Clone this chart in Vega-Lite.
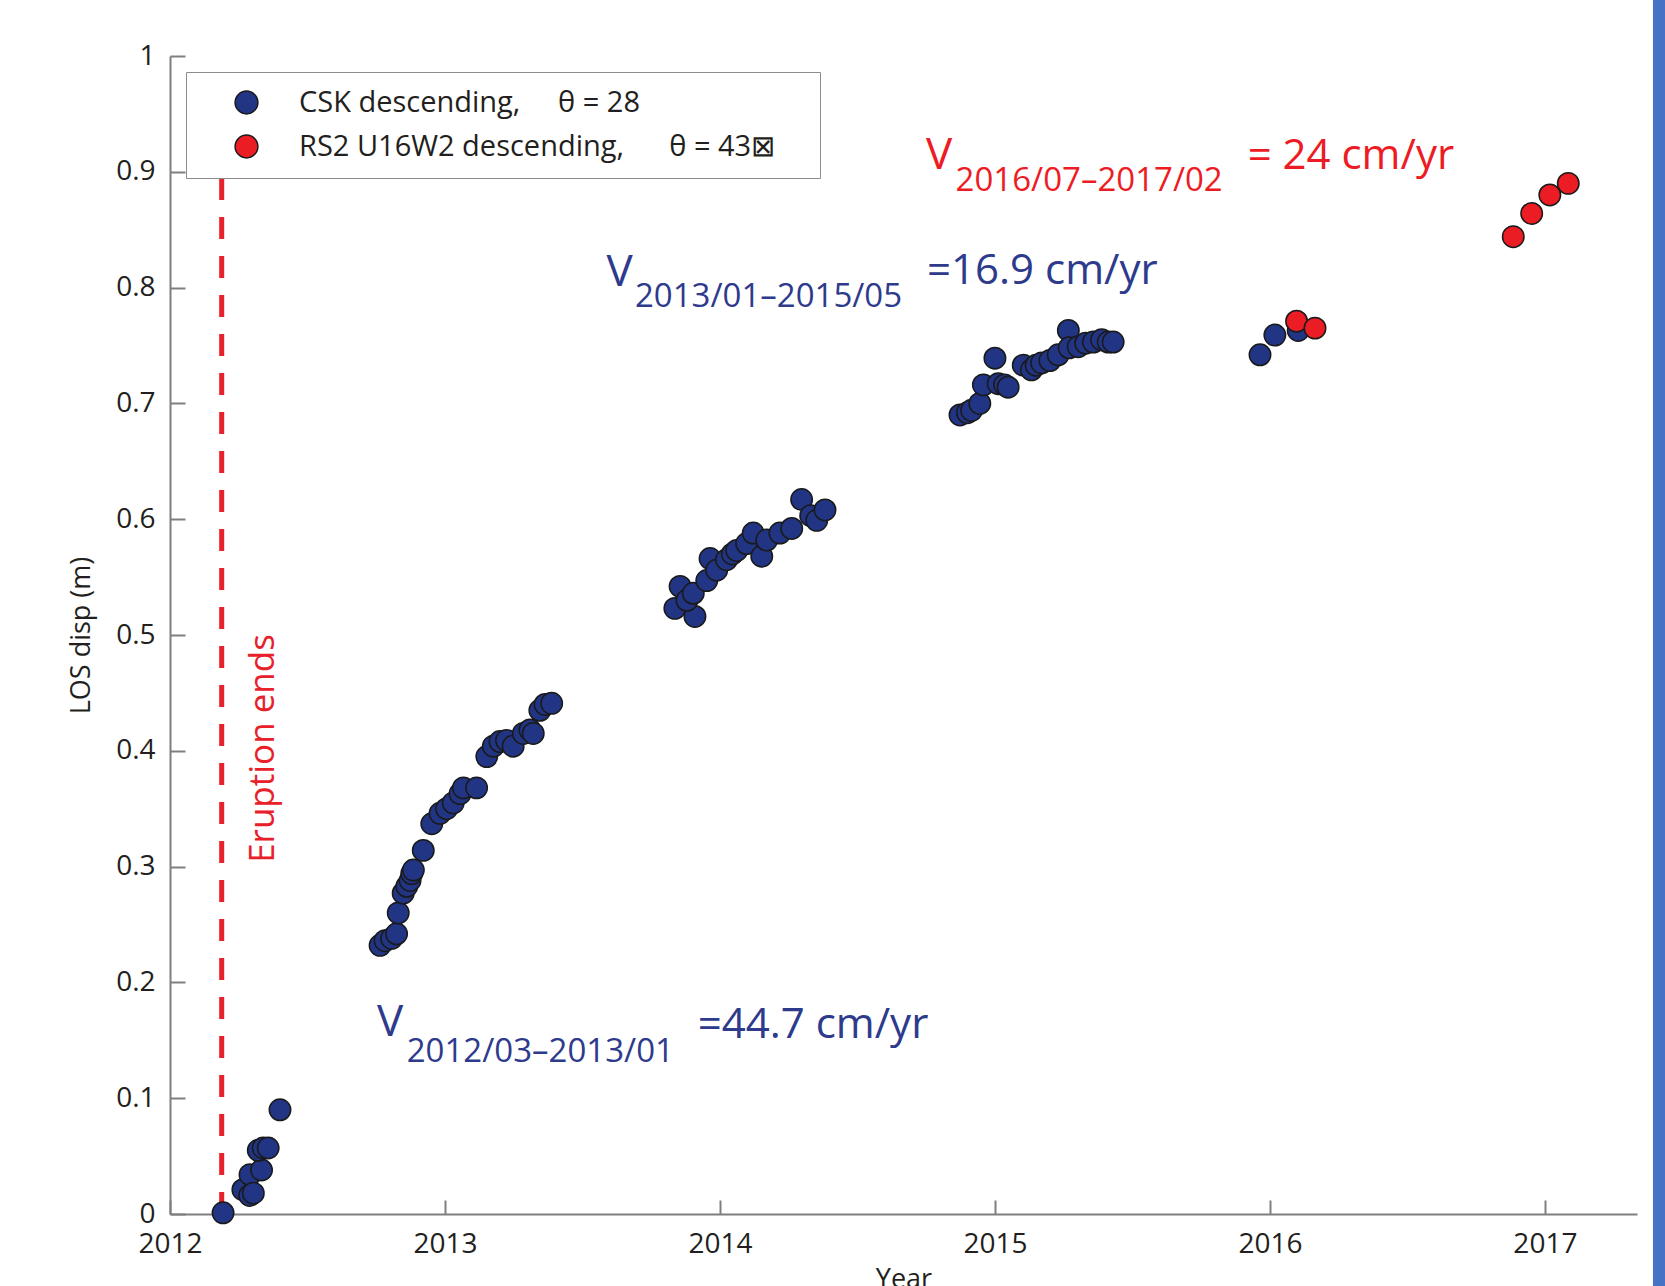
{
  "$schema": "https://vega.github.io/schema/vega-lite/v6.json",
  "width": 1467,
  "height": 1158,
  "autosize": {"type": "none"},
  "padding": {"left": 170, "top": 56, "right": 28, "bottom": 72},
  "background": "white",
  "config": {"view": {"stroke": null}, "font": "Open Sans"},
  "datasets": {
    "points": [
      {"series": "CSK", "year": 2012.193, "disp": 0.001},
      {"series": "CSK", "year": 2012.265, "disp": 0.021},
      {"series": "CSK", "year": 2012.290, "disp": 0.016},
      {"series": "CSK", "year": 2012.291, "disp": 0.034},
      {"series": "CSK", "year": 2012.303, "disp": 0.018},
      {"series": "CSK", "year": 2012.333, "disp": 0.038},
      {"series": "CSK", "year": 2012.321, "disp": 0.055},
      {"series": "CSK", "year": 2012.339, "disp": 0.057},
      {"series": "CSK", "year": 2012.357, "disp": 0.057},
      {"series": "CSK", "year": 2012.400, "disp": 0.090},
      {"series": "CSK", "year": 2012.764, "disp": 0.232},
      {"series": "CSK", "year": 2012.782, "disp": 0.236},
      {"series": "CSK", "year": 2012.806, "disp": 0.238},
      {"series": "CSK", "year": 2012.824, "disp": 0.242},
      {"series": "CSK", "year": 2012.830, "disp": 0.260},
      {"series": "CSK", "year": 2012.848, "disp": 0.277},
      {"series": "CSK", "year": 2012.861, "disp": 0.283},
      {"series": "CSK", "year": 2012.873, "disp": 0.288},
      {"series": "CSK", "year": 2012.879, "disp": 0.294},
      {"series": "CSK", "year": 2012.885, "disp": 0.297},
      {"series": "CSK", "year": 2012.921, "disp": 0.314},
      {"series": "CSK", "year": 2012.952, "disp": 0.337},
      {"series": "CSK", "year": 2012.982, "disp": 0.346},
      {"series": "CSK", "year": 2013.006, "disp": 0.350},
      {"series": "CSK", "year": 2013.030, "disp": 0.355},
      {"series": "CSK", "year": 2013.055, "disp": 0.363},
      {"series": "CSK", "year": 2013.067, "disp": 0.368},
      {"series": "CSK", "year": 2013.115, "disp": 0.368},
      {"series": "CSK", "year": 2013.152, "disp": 0.395},
      {"series": "CSK", "year": 2013.176, "disp": 0.404},
      {"series": "CSK", "year": 2013.200, "disp": 0.408},
      {"series": "CSK", "year": 2013.224, "disp": 0.409},
      {"series": "CSK", "year": 2013.248, "disp": 0.404},
      {"series": "CSK", "year": 2013.285, "disp": 0.415},
      {"series": "CSK", "year": 2013.309, "disp": 0.418},
      {"series": "CSK", "year": 2013.321, "disp": 0.415},
      {"series": "CSK", "year": 2013.345, "disp": 0.435},
      {"series": "CSK", "year": 2013.364, "disp": 0.440},
      {"series": "CSK", "year": 2013.388, "disp": 0.441},
      {"series": "CSK", "year": 2013.836, "disp": 0.523},
      {"series": "CSK", "year": 2013.855, "disp": 0.542},
      {"series": "CSK", "year": 2013.909, "disp": 0.516},
      {"series": "CSK", "year": 2013.880, "disp": 0.530},
      {"series": "CSK", "year": 2013.903, "disp": 0.536},
      {"series": "CSK", "year": 2013.952, "disp": 0.547},
      {"series": "CSK", "year": 2013.964, "disp": 0.566},
      {"series": "CSK", "year": 2013.988, "disp": 0.556},
      {"series": "CSK", "year": 2014.024, "disp": 0.565},
      {"series": "CSK", "year": 2014.045, "disp": 0.570},
      {"series": "CSK", "year": 2014.061, "disp": 0.573},
      {"series": "CSK", "year": 2014.097, "disp": 0.579},
      {"series": "CSK", "year": 2014.121, "disp": 0.588},
      {"series": "CSK", "year": 2014.152, "disp": 0.568},
      {"series": "CSK", "year": 2014.170, "disp": 0.582},
      {"series": "CSK", "year": 2014.218, "disp": 0.588},
      {"series": "CSK", "year": 2014.261, "disp": 0.592},
      {"series": "CSK", "year": 2014.297, "disp": 0.617},
      {"series": "CSK", "year": 2014.330, "disp": 0.603},
      {"series": "CSK", "year": 2014.352, "disp": 0.599},
      {"series": "CSK", "year": 2014.382, "disp": 0.608},
      {"series": "CSK", "year": 2014.873, "disp": 0.690},
      {"series": "CSK", "year": 2014.900, "disp": 0.692},
      {"series": "CSK", "year": 2014.915, "disp": 0.694},
      {"series": "CSK", "year": 2014.945, "disp": 0.700},
      {"series": "CSK", "year": 2014.958, "disp": 0.716},
      {"series": "CSK", "year": 2015.000, "disp": 0.739},
      {"series": "CSK", "year": 2015.012, "disp": 0.717},
      {"series": "CSK", "year": 2015.035, "disp": 0.716},
      {"series": "CSK", "year": 2015.048, "disp": 0.714},
      {"series": "CSK", "year": 2015.103, "disp": 0.733},
      {"series": "CSK", "year": 2015.133, "disp": 0.729},
      {"series": "CSK", "year": 2015.150, "disp": 0.733},
      {"series": "CSK", "year": 2015.170, "disp": 0.735},
      {"series": "CSK", "year": 2015.200, "disp": 0.737},
      {"series": "CSK", "year": 2015.230, "disp": 0.742},
      {"series": "CSK", "year": 2015.267, "disp": 0.763},
      {"series": "CSK", "year": 2015.270, "disp": 0.748},
      {"series": "CSK", "year": 2015.303, "disp": 0.749},
      {"series": "CSK", "year": 2015.330, "disp": 0.752},
      {"series": "CSK", "year": 2015.358, "disp": 0.753},
      {"series": "CSK", "year": 2015.388, "disp": 0.755},
      {"series": "CSK", "year": 2015.412, "disp": 0.753},
      {"series": "CSK", "year": 2015.430, "disp": 0.753},
      {"series": "CSK", "year": 2015.964, "disp": 0.742},
      {"series": "CSK", "year": 2016.018, "disp": 0.759},
      {"series": "CSK", "year": 2016.103, "disp": 0.763},
      {"series": "RS2", "year": 2016.097, "disp": 0.771},
      {"series": "RS2", "year": 2016.164, "disp": 0.765},
      {"series": "RS2", "year": 2016.885, "disp": 0.844},
      {"series": "RS2", "year": 2016.952, "disp": 0.864},
      {"series": "RS2", "year": 2017.018, "disp": 0.880},
      {"series": "RS2", "year": 2017.085, "disp": 0.890}
    ],
    "annotations": [
      {"kind": "V", "group": "CSK", "year": 2012.753, "disp": 0.154, "label": "V"},
      {"kind": "sub", "group": "CSK", "year": 2012.861, "disp": 0.131, "label": "2012/03–2013/01"},
      {"kind": "val", "group": "CSK", "year": 2013.919, "disp": 0.152, "label": "=44.7 cm/yr"},
      {"kind": "V", "group": "CSK", "year": 2013.587, "disp": 0.801, "label": "V"},
      {"kind": "sub", "group": "CSK", "year": 2013.691, "disp": 0.783, "label": "2013/01–2015/05"},
      {"kind": "val", "group": "CSK", "year": 2014.753, "disp": 0.803, "label": "=16.9 cm/yr"},
      {"kind": "V", "group": "RS2", "year": 2014.749, "disp": 0.902, "label": "V"},
      {"kind": "sub", "group": "RS2", "year": 2014.857, "disp": 0.883, "label": "2016/07–2017/02"},
      {"kind": "val", "group": "RS2", "year": 2015.919, "disp": 0.902, "label": "= 24 cm/yr"}
    ],
    "eruption": [
      {"year": 2012.188, "disp": 0, "disp2": 0.9, "label": "Eruption ends", "labelYear": 2012.378, "labelDisp": 0.402}
    ],
    "frame": [
      {"year": 2017.393, "year2": 2017.44, "disp": -0.07, "disp2": 1.06}
    ]
  },
  "encoding": {
    "x": {
      "field": "year", "type": "quantitative",
      "scale": {"domain": [2012, 2017.335], "nice": false, "zero": false},
      "axis": {
        "title": "Year", "values": [2012, 2013, 2014, 2015, 2016, 2017], "format": "d",
        "grid": false, "labelFlush": false, "labelOverlap": false,
        "tickSize": -14, "tickWidth": 2, "tickColor": "#7f7f7f",
        "domainColor": "#7f7f7f", "domainWidth": 2,
        "labelPadding": 30, "labelFontSize": 28, "labelColor": "#231f20", "labelFont": "Open Sans",
        "titleFontSize": 27, "titleFontWeight": "normal", "titleColor": "#231f20", "titleFont": "Open Sans", "titlePadding": 8
      }
    },
    "y": {
      "field": "disp", "type": "quantitative",
      "scale": {"domain": [0, 1], "nice": false, "zero": false},
      "axis": {
        "title": "LOS disp (m)", "values": [0, 0.1, 0.2, 0.3, 0.4, 0.5, 0.6, 0.7, 0.8, 0.9, 1], "format": "~g",
        "grid": false, "labelOverlap": false,
        "tickSize": -15, "tickWidth": 2, "tickColor": "#7f7f7f",
        "domainColor": "#7f7f7f", "domainWidth": 2,
        "labelPadding": 30, "labelFontSize": 28, "labelColor": "#231f20", "labelFont": "Open Sans",
        "titleFontSize": 27, "titleFontWeight": "normal", "titleColor": "#231f20", "titleFont": "Open Sans", "titlePadding": 20
      }
    }
  },
  "layer": [
    {
      "data": {"name": "frame"},
      "mark": {"type": "rect", "color": "#4472C4", "clip": false},
      "encoding": {"x2": {"field": "year2"}, "y2": {"field": "disp2"}}
    },
    {
      "data": {"name": "eruption"},
      "mark": {"type": "rule", "color": "#E8202A", "strokeWidth": 5, "strokeDash": [22, 17]},
      "encoding": {"y2": {"field": "disp2"}}
    },
    {
      "data": {"name": "eruption"},
      "mark": {"type": "text", "angle": 270, "align": "center", "baseline": "alphabetic", "fontSize": 35, "font": "Open Sans", "color": "#E8202A"},
      "encoding": {
        "x": {"field": "labelYear", "type": "quantitative"},
        "y": {"field": "labelDisp", "type": "quantitative"},
        "text": {"field": "label"}
      }
    },
    {
      "data": {"name": "points"},
      "mark": {"type": "point", "shape": "circle", "filled": true, "size": 460, "opacity": 1, "stroke": "#1a1a1a", "strokeWidth": 1.5},
      "encoding": {
        "color": {
          "field": "series", "type": "nominal",
          "scale": {"domain": ["CSK", "RS2"], "range": ["#213584", "#EC1C24"]},
          "legend": {
            "title": null, "orient": "none", "legendX": 16, "legendY": 16, "direction": "vertical",
            "labelExpr": "datum.value === 'CSK' ? 'CSK descending,\u00a0\u00a0\u00a0\u00a0\u00a0θ = 28' : 'RS2 U16W2 descending,\u00a0\u00a0\u00a0\u00a0\u00a0\u00a0θ = 43⊠\u00a0\u2800'",
            "padding": 16, "strokeColor": "#8c8c8c", "fillColor": "white",
            "symbolType": "circle", "symbolSize": 520, "symbolOffset": 30, "labelOffset": 38,
            "labelFontSize": 29, "labelFont": "Open Sans", "labelColor": "#231f20", "labelLimit": 1000,
            "rowPadding": 14,
            "encode": {
              "symbols": {"update": {"stroke": {"value": "#1a1a1a"}, "strokeWidth": {"value": 1.5}}},
              "legend": {"update": {"strokeWidth": {"value": 2}}}
            }
          }
        }
      }
    },
    {
      "data": {"name": "annotations"},
      "transform": [{"filter": "datum.kind === 'V'"}],
      "mark": {"type": "text", "align": "left", "baseline": "alphabetic", "fontSize": 44, "font": "Open Sans"},
      "encoding": {
        "text": {"field": "label"},
        "color": {"condition": {"test": "datum.group === 'RS2'", "value": "#ED1C24"}, "value": "#2E3A8C"}
      }
    },
    {
      "data": {"name": "annotations"},
      "transform": [{"filter": "datum.kind === 'sub'"}],
      "mark": {"type": "text", "align": "left", "baseline": "alphabetic", "fontSize": 33, "font": "Open Sans"},
      "encoding": {
        "text": {"field": "label"},
        "color": {"condition": {"test": "datum.group === 'RS2'", "value": "#ED1C24"}, "value": "#2E3A8C"}
      }
    },
    {
      "data": {"name": "annotations"},
      "transform": [{"filter": "datum.kind === 'val'"}],
      "mark": {"type": "text", "align": "left", "baseline": "alphabetic", "fontSize": 42, "font": "Open Sans"},
      "encoding": {
        "text": {"field": "label"},
        "color": {"condition": {"test": "datum.group === 'RS2'", "value": "#ED1C24"}, "value": "#2E3A8C"}
      }
    }
  ]
}
